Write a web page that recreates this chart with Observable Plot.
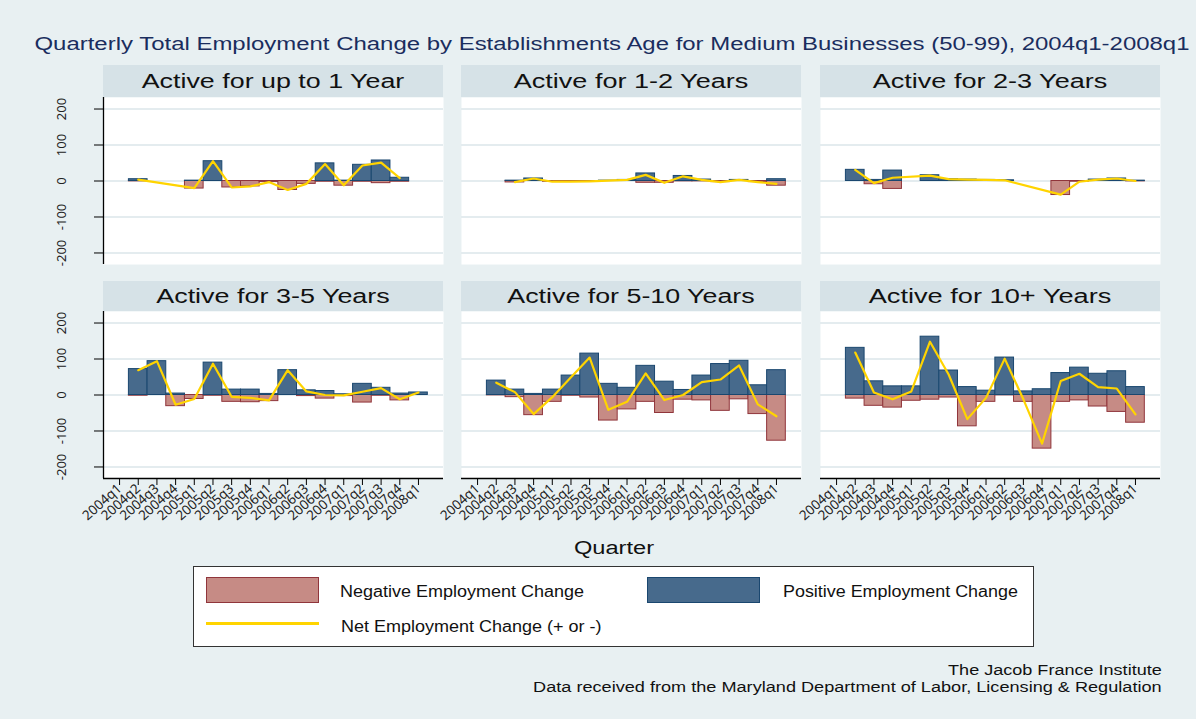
<!DOCTYPE html>
<html><head><meta charset="utf-8">
<script src="https://cdn.jsdelivr.net/npm/d3@7"></script>
<script src="https://cdn.jsdelivr.net/npm/@observablehq/plot@0.6"></script>
<style>
html,body{margin:0;padding:0;background:#e8f0f2;}
#root{position:relative;width:1196px;height:719px;background:#e8f0f2;font-family:"Liberation Sans",Arial,sans-serif;overflow:hidden;}
.txt{position:absolute;white-space:nowrap;line-height:1;}
.box{position:absolute;box-sizing:border-box;}
</style></head><body><div id="root"></div>
<script>
// ---------- data ----------
const quarters = ["2004q1","2004q2","2004q3","2004q4","2005q1","2005q2","2005q3","2005q4","2006q1","2006q2","2006q3","2006q4","2007q1","2007q2","2007q3","2007q4","2008q1"];
const panelTitles = ["Active for up to 1 Year","Active for 1-2 Years","Active for 2-3 Years","Active for 3-5 Years","Active for 5-10 Years","Active for 10+ Years"];
const yTicks = [-200,-100,0,100,200];

const posUpTo1 = [null,5,null,null,1,55,0,0,0,0,0,49,1,45,57,9,null];
const negUpTo1 = [null,-1,null,null,-21,0,-18,-15,-3,-25,-8,-2,-13,-2,-6,-2,null];
const netUpTo1 = [null,4,null,null,-20,55,-18,-15,-3,-25,-8,47,-12,43,51,8,null];

const pos1to2 = [null,null,1,7,0,0,0,1,3,21,0,14,4,0,3,0,5];
const neg1to2 = [null,null,-4,0,-2,-2,-1,0,0,-5,-5,-1,-1,-3,0,-3,-13];
const net1to2 = [null,null,-3,7,-2,-2,-1,1,3,17,-5,13,3,-3,3,-3,-8];

const pos2to3 = [null,31,3,29,null,16,5,4,3,2,null,null,0,0,4,7,1];
const neg2to3 = [null,0,-9,-22,null,0,0,0,0,0,null,null,-39,-2,0,0,-1];
const net2to3 = [null,31,-6,9,null,15,5,4,3,2,null,null,-38,-2,4,7,0];

const pos3to5 = [null,72,94,4,0,90,15,15,3,69,13,11,2,31,20,4,7];
const neg3to5 = [null,-2,0,-31,-11,-2,-19,-20,-17,0,-3,-10,-3,-21,-2,-15,0];
const net3to5 = [null,69,94,-27,-11,87,-5,-8,-15,69,10,0,-1,9,19,-12,7];

const pos5to10 = [null,40,15,3,15,54,115,31,20,81,37,14,54,86,95,27,69];
const neg5to10 = [null,-1,-6,-56,-19,-2,-7,-71,-40,-19,-50,-13,-15,-44,-12,-53,-127];
const net5to10 = [null,34,8,-53,-6,49,104,-41,-19,60,-14,0,36,43,82,-26,-59];

const pos10plus = [null,131,38,24,24,162,68,22,12,104,10,16,61,76,59,66,22];
const neg10plus = [null,-10,-30,-35,-16,-13,-7,-87,-19,-1,-19,-149,-19,-15,-32,-47,-77];
const net10plus = [null,118,7,-12,10,148,57,-67,-8,101,-12,-135,39,59,22,18,-54];

const posSeries = [posUpTo1,pos1to2,pos2to3,pos3to5,pos5to10,pos10plus];
const negSeries = [negUpTo1,neg1to2,neg2to3,neg3to5,neg5to10,neg10plus];
const netSeries = [netUpTo1,net1to2,net2to3,net3to5,net5to10,net10plus];

// ---------- style / layout ----------
const POS_FILL="#476a8c", POS_STROKE="#1a476f";
const NEG_FILL="#c68b85", NEG_STROKE="#90353b";
const NET="#ffd400";
const STRIP="#d6e2e7";
const colX=[103,461,820], PW=340, PH=167;
const rowY=[97,311], stripTop=[65,281];
const root=document.getElementById("root");

function addText(str,{x,y,anchor="middle",size=14,color="#000",width=null}){
  const s=document.createElement("span");
  s.className="txt"; s.textContent=str;
  s.style.fontSize=size+"px"; s.style.color=color; s.style.top=y+"px";
  root.appendChild(s);
  const w=s.offsetWidth; const k=width?width/w:1;
  if(anchor==="middle"){s.style.left=x+"px";s.style.transform=`translate(-50%,-50%) scaleX(${k})`;}
  else if(anchor==="start"){s.style.left=x+"px";s.style.transformOrigin="0 50%";s.style.transform=`translateY(-50%) scaleX(${k})`;}
  else {s.style.left=(x-w)+"px";s.style.transformOrigin="100% 50%";s.style.transform=`translateY(-50%) scaleX(${k})`;}
}
function addBox(l,t,w,h,css){const d=document.createElement("div");d.className="box";Object.assign(d.style,{left:l+"px",top:t+"px",width:w+"px",height:h+"px"},css);root.appendChild(d);}

// title
addText("Quarterly Total Employment Change by Establishments Age for Medium Businesses (50-99), 2004q1-2008q1",{x:612,y:45,size:17.5,color:"#1a2d5e",width:1155});

const xDomain=[-0.86,17.34], yDomain=[-232,232];
for(let p=0;p<6;p++){
  const col=p%3,row=Math.floor(p/3);
  const ml=col===0?70:0, mb=row===1?80:0;
  const data=quarters.map((q,i)=>({i,q,pos:posSeries[p][i],neg:negSeries[p][i],net:netSeries[p][i]}));
  const marks=[
    Plot.frame({fill:"white",stroke:null}),
    Plot.gridY(yTicks,{stroke:"#e4ecef",strokeOpacity:1,strokeWidth:2}),
    Plot.rect(data.filter(d=>d.neg!=null&&d.neg!==0),{x1:d=>d.i-0.5,x2:d=>d.i+0.5,y1:d=>0,y2:"neg",fill:NEG_FILL,stroke:NEG_STROKE,strokeWidth:1}),
    Plot.rect(data.filter(d=>d.pos!=null&&d.pos!==0),{x1:d=>d.i-0.5,x2:d=>d.i+0.5,y1:d=>0,y2:"pos",fill:POS_FILL,stroke:POS_STROKE,strokeWidth:1}),
    Plot.line(data.filter(d=>d.net!=null),{x:"i",y:"net",stroke:NET,strokeWidth:2.2})
  ];
  if(col===0){
    marks.push(Plot.ruleX([xDomain[0]],{stroke:"#000",strokeWidth:1.3}));
    marks.push(Plot.axisY(yTicks,{tickSize:9,tickPadding:29,tickRotate:-90,fontSize:13,color:"#222",stroke:"#000",label:null,tickFormat:d=>String(d)}));
  }
  if(row===1){
    marks.push(Plot.ruleY([yDomain[0]],{stroke:"#000",strokeWidth:1.3}));
    marks.push(Plot.axisX(d3.range(quarters.length),{tickFormat:i=>quarters[i],tickSize:7,tickPadding:1,tickRotate:-42,fontSize:13.5,color:"#222",stroke:"#000",label:null}));
  }
  const svg=Plot.plot({
    width:PW+ml,height:PH+mb,marginLeft:ml,marginRight:0,marginTop:0,marginBottom:mb,
    x:{type:"linear",domain:xDomain,axis:null,label:null},
    y:{domain:yDomain,axis:null,label:null},
    style:{background:"transparent",overflow:"visible"},
    marks
  });
  svg.style.position="absolute";
  svg.style.left=(colX[col]-ml)+"px";
  svg.style.top=rowY[row]+"px";
  root.appendChild(svg);
  // strip header
  addBox(colX[col],stripTop[row],PW,rowY[row]-stripTop[row],{background:STRIP});
  addText(panelTitles[p],{x:colX[col]+PW/2,y:(stripTop[row]+rowY[row])/2,size:20,color:"#111",width:[263,234,234,233,248,242][p]});
}

addText("Quarter",{x:614,y:548,size:18,color:"#111",width:80});

// legend
addBox(193,566,841,81,{background:"#fff",border:"1px solid #333"});
addBox(206,577,113,26,{background:NEG_FILL,border:"1px solid "+NEG_STROKE});
addBox(647,577,113,26,{background:POS_FILL,border:"1px solid "+POS_STROKE});
addBox(206,622,113,3,{background:NET});
addText("Negative Employment Change",{x:340,y:592,anchor:"start",size:16,color:"#111",width:244});
addText("Positive Employment Change",{x:783,y:592,anchor:"start",size:16,color:"#111",width:235});
addText("Net Employment Change (+ or -)",{x:341,y:627,anchor:"start",size:16,color:"#111",width:261});

// caption
addText("The Jacob France Institute",{x:1162,y:670,anchor:"end",size:14,color:"#111",width:214});
addText("Data received from the Maryland Department of Labor, Licensing & Regulation",{x:1162,y:687,anchor:"end",size:14,color:"#111",width:629});
</script></body></html>
